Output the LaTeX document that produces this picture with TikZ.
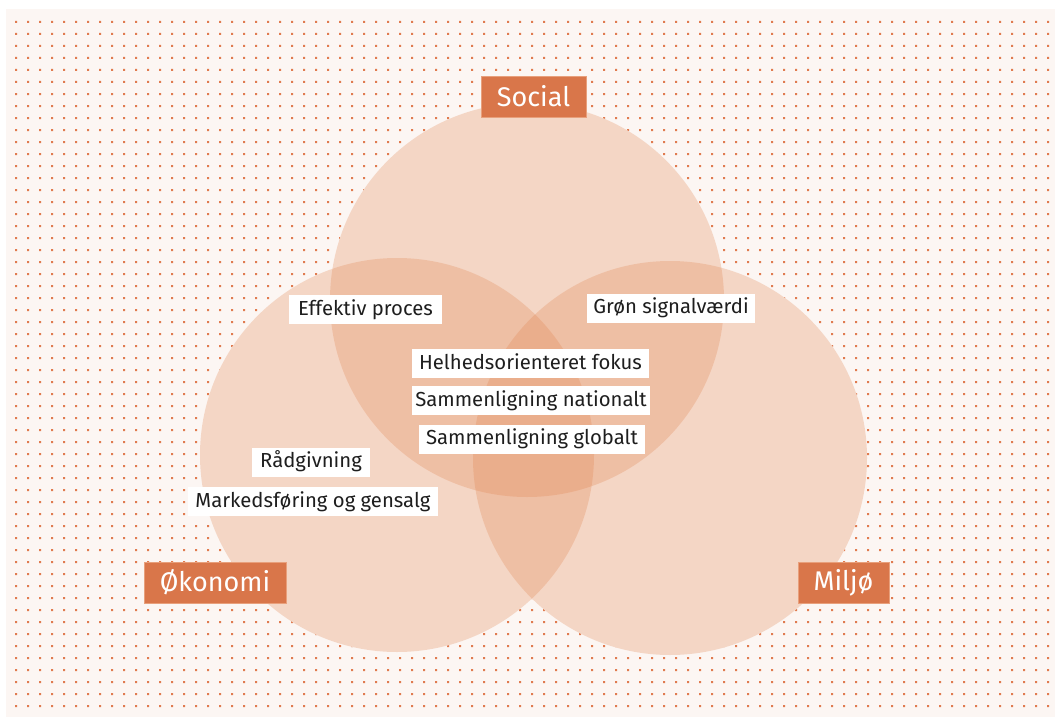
\documentclass[tikz,border=0pt]{standalone}
\usepackage{fontspec}
\setmainfont{Fira Sans}
\definecolor{bgc}{HTML}{FCF6F3}
\definecolor{dotc}{HTML}{E07B4F}
\definecolor{circc}{HTML}{E2844F}
\definecolor{labc}{HTML}{D9764A}
\definecolor{labedge}{HTML}{E8A07C}
\definecolor{txtc}{HTML}{1E1E1E}
\tikzset{
  venn/.style={circle, minimum size=394pt, inner sep=0pt, fill=circc, fill opacity=0.28, draw=none},
  lab/.style={fill=labc, draw=labedge, line width=0.8pt, text=white, minimum height=41pt, inner sep=0pt,
    font=\fontsize{27}{27}\selectfont},
  item/.style={fill=white, text=txtc, minimum height=29pt, inner sep=0pt,
    text height=14.5pt, text depth=3.5pt,
    font=\fontsize{20.3}{22}\selectfont}
}
\begin{document}
\begin{tikzpicture}[x=1pt,y=-1pt]
\useasboundingbox (0,0) rectangle (1055,717);
\fill[bgc] (6,9) rectangle (1055,717);
\fill[dotc] \foreach \i in {0,...,86} {\foreach \j in {0,...,57} {({15+12*\i},{21+12*\j}) rectangle ++(2,2)}};
% opaque base so dots do not show through
\fill[bgc] (527,300) circle (197) (397,455) circle (197) (670,458) circle (197);
\node[venn] (soc) at (527,300) {};
\node[venn] (oko) at (397,455) {};
\node[venn] (mil) at (670,458) {};
% labels
\node[lab, minimum width=105pt] (social) at (533.5,96.5) {Social};
\node[lab, minimum width=142pt] (okonomi) at (215,582.5) {Økonomi};
\node[lab, minimum width=91pt] (miljo) at (843.5,582.5) {Miljø};
% items
\node[item, minimum width=153pt] (eff) at (365.5,309.5) {Effektiv proces};
\node[item, minimum width=168pt] (gron) at (671,308) {Grøn signalværdi};
\node[item, minimum width=237pt] (helh) at (530.5,363.5) {Helhedsorienteret fokus};
\node[item, minimum width=238pt] (samn) at (531,400.5) {Sammenligning nationalt};
\node[item, minimum width=226pt] (samg) at (532,439) {Sammenligning globalt};
\node[item, minimum width=118pt] (rad) at (311,462) {Rådgivning};
\node[item, minimum width=250pt] (mark) at (313,501.5) {Markedsføring og gensalg};
\end{tikzpicture}
\end{document}
